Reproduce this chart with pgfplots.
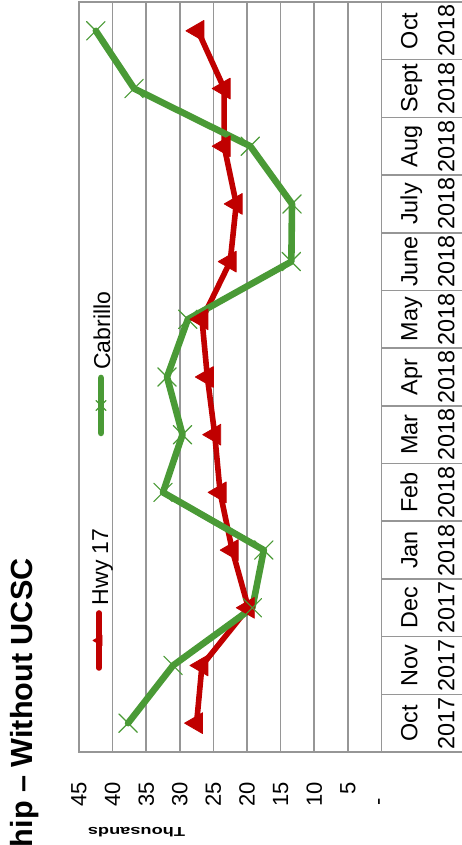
\documentclass[border=0pt]{standalone}
\usepackage{fontspec}
\setmainfont{Liberation Sans}
\usepackage{pgfplots}
\pgfplotsset{compat=1.18}
\usetikzlibrary{calc}
\definecolor{hwyred}{RGB}{192,0,0}
\definecolor{cabgreen}{RGB}{74,154,54}
\definecolor{gridgray}{RGB}{150,150,150}
\begin{document}
\begin{tikzpicture}
\begin{axis}[
  name=ax, at={(0,0)}, anchor=south west,
  scale only axis, width=151.2pt, height=375pt,
  xmin=0, xmax=45, x dir=reverse,
  ymin=-0.5, ymax=12.5,
  clip=false,
  xtick={0,5,...,45},
  xticklabels={{-\hspace*{8pt}\mbox{}},5,10,15,20,25,30,35,40,45},
  /pgf/number format/assume math mode=true,
  xmajorgrids,
  major grid style={gridgray, line width=0.8pt},
  axis line style={gridgray, line width=0.8pt},
  major tick length=0pt,
  xticklabel style={rotate=90, anchor=east, inner sep=0pt, font=\fontsize{11}{13}\selectfont},
  xticklabel shift=15pt,
  ytick={0,...,12},
  yticklabels={Oct,Nov,Dec,Jan,Feb,Mar,Apr,May,June,July,Aug,Sept,Oct},
  yticklabel pos=right,
  yticklabel style={rotate=90, anchor=base, inner sep=0pt, font=\fontsize{11.7}{13}\selectfont},
  yticklabel shift=18pt,
  extra y ticks={0,...,12},
  extra y tick labels={2017,2017,2017,2018,2018,2018,2018,2018,2018,2018,2018,2018,2018},
  extra y tick style={yticklabel shift=36.5pt},
  legend columns=2,
  legend style={at={(axis description cs:0.0728,0.3607)}, anchor=center,
    draw=none, fill=none, inner sep=0pt, row sep=0pt, column sep=0pt,
    nodes={inner sep=0pt, text depth=0pt, text height=0pt}},
]
\addplot[hwyred, line width=2.8pt, line join=round, line cap=round,
  mark=triangle*, mark size=6pt, mark options={rotate=90, solid, line width=0.4pt, fill=hwyred},
  legend image code/.code={
    \draw[overlay, mark repeat=2, mark phase=2, mark size=3pt] plot coordinates {(0pt,-93.25pt) (0pt,-79.5pt) (0pt,-65.75pt)};
    \node[overlay, rotate=90, anchor=base west, inner sep=0pt, text=black, font=\fontsize{11.5}{13}\selectfont] at (4.5pt,-63.25pt) {Hwy 17};
  }]
  coordinates {(27.5,0) (26.7,1) (19.8,2) (22.2,3) (24.0,4) (24.8,5) (25.9,6) (26.7,7) (22.5,8) (21.6,9) (23.4,10) (23.4,11) (27.3,12)};
\addlegendentry{\mbox{}}
\addplot[cabgreen, line width=3.3pt, line join=round, line cap=round,
  mark=x, mark size=6.5pt, mark options={solid, line width=0.6pt},
  legend image code/.code={
    \draw[overlay, mark repeat=2, mark phase=2, mark size=3.5pt] plot coordinates {(0pt,24.25pt) (0pt,38pt) (0pt,51.75pt)};
    \node[overlay, rotate=90, anchor=base west, inner sep=0pt, text=black, font=\fontsize{11.5}{13}\selectfont] at (4.5pt,54.25pt) {Cabrillo};
  }]
  coordinates {(37.7,0) (31.0,1) (19.2,2) (17.5,3) (32.5,4) (29.6,5) (31.9,6) (28.8,7) (13.4,8) (13.3,9) (19.5,10) (36.8,11) (42.5,12)};
\addlegendentry{\mbox{}}
\end{axis}
\foreach \k in {0,...,13} \draw[gridgray, line width=0.8pt] ($(ax.south east)+(0,\k*28.846pt)$) -- ++(45pt,0);
\node[rotate=90, anchor=base east, inner sep=0pt, font=\bfseries\fontsize{15.3}{17}\selectfont] at (-23pt,97pt) {Ridership – Without UCSC};
\node[rotate=180, xscale=1.4, inner sep=0pt, font=\bfseries\fontsize{6.5}{8}\selectfont] at (28.75pt,-40.25pt) {Thousands};
\pgfresetboundingbox
\useasboundingbox (-39.5pt,-46.5pt) rectangle (191pt,376pt);
\end{tikzpicture}
\end{document}
